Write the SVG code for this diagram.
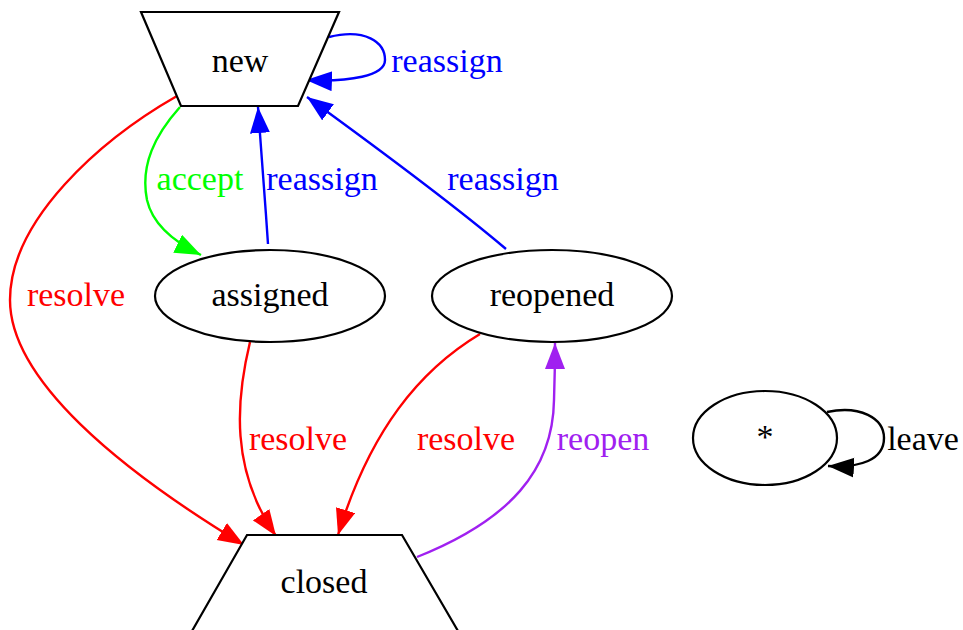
<svg xmlns="http://www.w3.org/2000/svg" width="963" height="630" viewBox="0 0 963 630">
<defs>
<style>
.n{fill:#fff;stroke:#000;stroke-width:2.2}
.t{font-family:"Liberation Serif","Times New Roman",serif;font-size:34px;text-anchor:middle}
.e{fill:none;stroke-width:2.4}
.red{stroke:#ff0000}.grn{stroke:#00ff00}.blu{stroke:#0000ff}.pur{stroke:#a020f0}.blk{stroke:#000}
</style>
<marker id="aR" markerUnits="userSpaceOnUse" markerWidth="28" markerHeight="22" refX="26" refY="10" orient="auto"><path d="M0,0 L26,10 L0,20 z" fill="#ff0000"/></marker>
<marker id="aG" markerUnits="userSpaceOnUse" markerWidth="28" markerHeight="22" refX="26" refY="10" orient="auto"><path d="M0,0 L26,10 L0,20 z" fill="#00ff00"/></marker>
<marker id="aB" markerUnits="userSpaceOnUse" markerWidth="28" markerHeight="22" refX="26" refY="10" orient="auto"><path d="M0,0 L26,10 L0,20 z" fill="#0000ff"/></marker>
<marker id="aP" markerUnits="userSpaceOnUse" markerWidth="28" markerHeight="22" refX="26" refY="10" orient="auto"><path d="M0,0 L26,10 L0,20 z" fill="#a020f0"/></marker>
<marker id="aK" markerUnits="userSpaceOnUse" markerWidth="28" markerHeight="22" refX="26" refY="10" orient="auto"><path d="M0,0 L26,10 L0,20 z" fill="#000"/></marker>
</defs>
<rect width="963" height="630" fill="#fff"/>
<g id="connectors">
<path class="e blu" d="M329,37 C365,28 385,42 385,60 C385,76 350,82 306,80" marker-end="url(#aB)"/>
<text class="t" x="447" y="72" fill="#0000ff">reassign</text>
<path class="e grn" d="M180,107 C155,135 140,165 147,200 C152,222 170,240 201,255" marker-end="url(#aG)"/>
<text class="t" x="200" y="190" fill="#00ff00">accept</text>
<path class="e blu" d="M268,244 C265,200 262,160 258,107" marker-end="url(#aB)"/>
<text class="t" x="322" y="190" fill="#0000ff">reassign</text>
<path class="e blu" d="M506,249 C460,210 380,150 307,97" marker-end="url(#aB)"/>
<text class="t" x="503" y="190" fill="#0000ff">reassign</text>
<path class="e red" d="M177,96 C100,140 10,220 10,300 C10,380 120,470 244,545" marker-end="url(#aR)"/>
<text class="t" x="76" y="306" fill="#ff0000">resolve</text>
<path class="e red" d="M250,342 C236,400 230,470 276,536" marker-end="url(#aR)"/>
<text class="t" x="298" y="450" fill="#ff0000">resolve</text>
<path class="e red" d="M480,334 C420,370 370,430 338,535" marker-end="url(#aR)"/>
<text class="t" x="466" y="450" fill="#ff0000">resolve</text>
<path class="e pur" d="M417,557 C510,520 553,470 554,400 C555,370 555,355 555,343" marker-end="url(#aP)"/>
<text class="t" x="603" y="450" fill="#a020f0">reopen</text>
<path class="e blk" d="M827,412 C860,405 884,418 884,438 C884,460 860,468 828,466" marker-end="url(#aK)"/>
<text class="t" x="923" y="450" fill="#000">leave</text>
</g>
<g id="node-new"><polygon class="n" points="141,12 339,12 298,106 181,106"/><text class="t" x="240" y="72">new</text></g>
<g id="node-assigned"><ellipse class="n" cx="270" cy="296" rx="115" ry="46"/><text class="t" x="270" y="306">assigned</text></g>
<g id="node-reopened"><ellipse class="n" cx="552" cy="296" rx="120" ry="46"/><text class="t" x="552" y="306">reopened</text></g>
<g id="node-closed"><polygon class="n" points="247,535 402,535 458,631 192,631"/><text class="t" x="324" y="593">closed</text></g>
<g id="node-star"><ellipse class="n" cx="765" cy="438" rx="72" ry="47"/><text class="t" x="765" y="448">*</text></g>
</svg>
